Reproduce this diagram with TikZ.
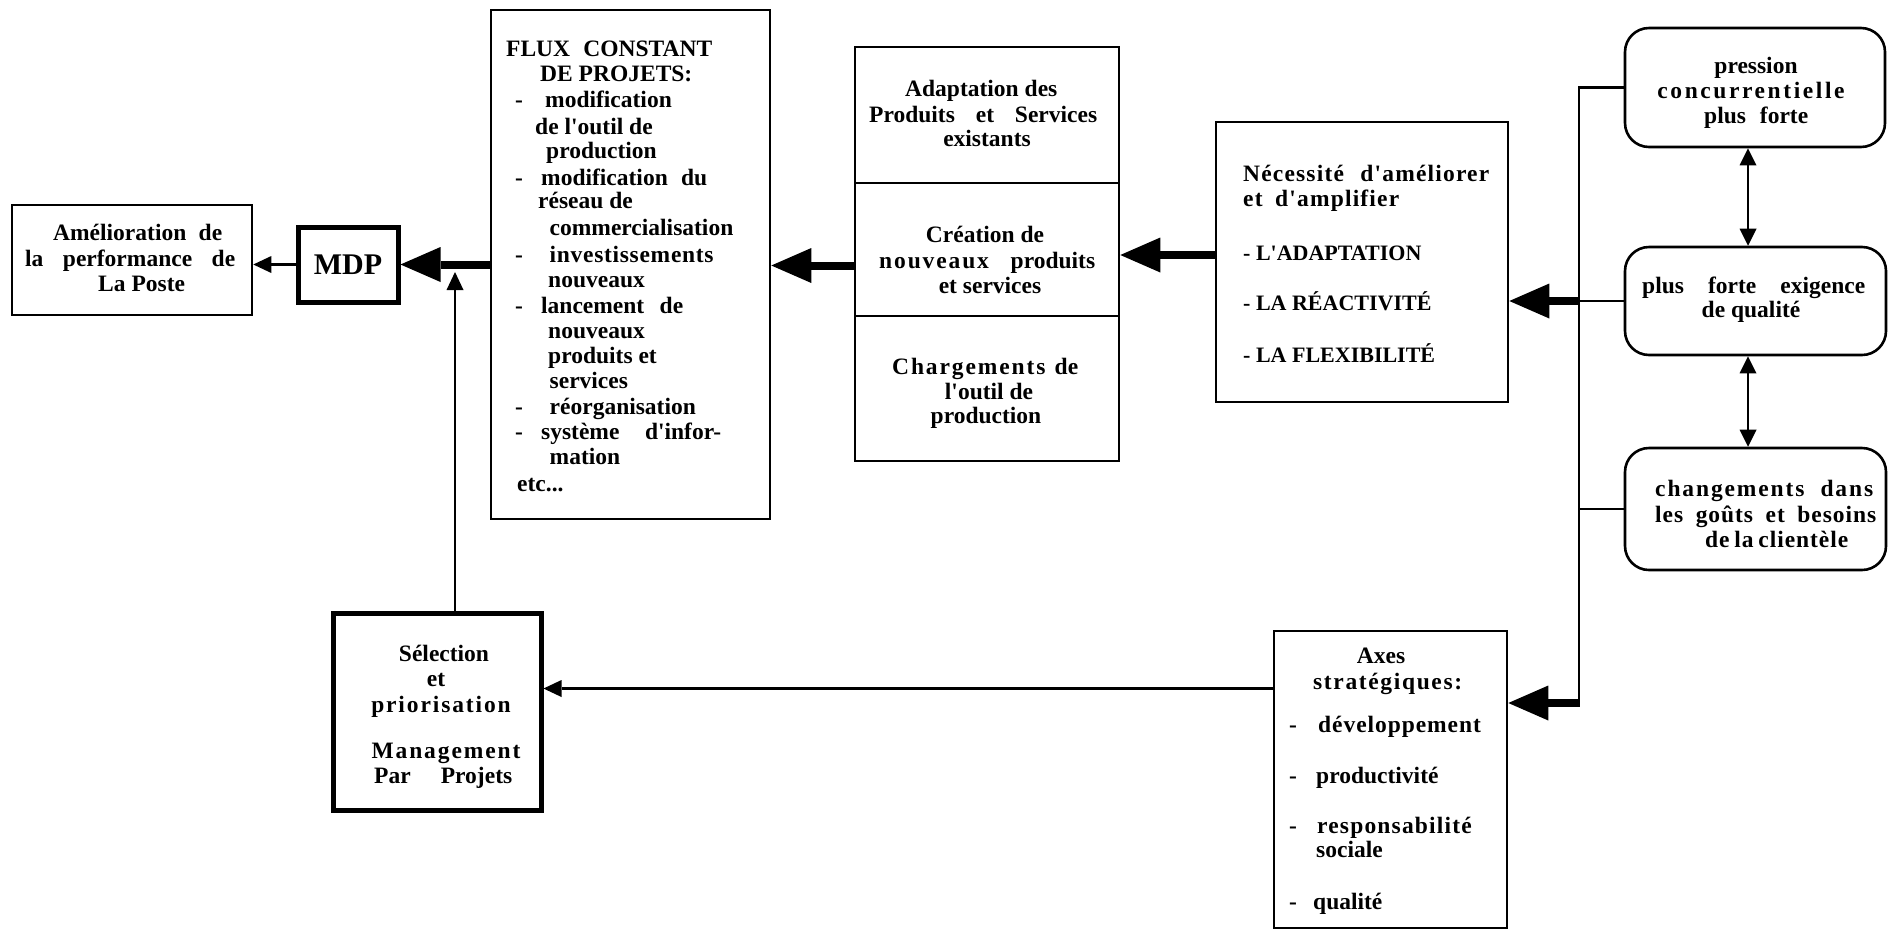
\documentclass[tikz,border=0pt]{standalone}
\usepackage{fontspec}
\setmainfont{Liberation Serif}[Ligatures=TeXOff]
\usetikzlibrary{arrows.meta}
% letter-spaced words
\newcommand\lsp[2][8]{{\addfontfeature{LetterSpace=#1}#2}}
% line set to a given width by stretching its spaces
\newcommand\jst[2]{\makebox[#1pt][s]{#2}}
\begin{document}
\begin{tikzpicture}[x=1pt,y=-1pt,
  every node/.style={inner sep=0pt, font=\fontsize{23.5}{25}\selectfont\bfseries},
  frame/.style={draw, line width=2.6pt},
  heavyframe/.style={draw, line width=5pt},
  roundframe/.style={draw, line width=2.6pt, rounded corners=24pt},
  tl/.style={anchor=base west},
  tc/.style={anchor=base},
  capsline/.style={anchor=base west, font=\fontsize{22}{25}\selectfont\bfseries},
  link/.style={line width=2.6pt},
  smallarrow/.style={line width=2.6pt, -{Triangle[length=18pt,width=17pt,line width=0pt]}},
  twoway/.style={line width=2.6pt, >={Triangle[length=17pt,width=17pt,line width=0pt]}, <->},
  bigarrow/.style={line width=8pt, -{Triangle[length=40pt,width=35pt,line width=0pt]}},
]
\useasboundingbox (0,0) rectangle (1890,930);
\fill[white] (0,0) rectangle (1890,930);

% ---------- boxes ----------
\node[frame, minimum width=240pt, minimum height=110pt] (amel) at (132,260) {};
\node[heavyframe, minimum width=100pt, minimum height=75pt,
      font=\fontsize{30}{30}\selectfont\bfseries] (mdp) at (348,264.5) {MDP};
\node[frame, minimum width=279pt, minimum height=509pt] (flux) at (630.5,264.5) {};
\node[frame, minimum width=264pt, minimum height=136pt] (sec1) at (987,115) {};
\node[frame, minimum width=264pt, minimum height=133pt] (sec2) at (987,249.5) {};
\node[frame, minimum width=264pt, minimum height=145pt] (sec3) at (987,388.5) {};
\node[frame, minimum width=292pt, minimum height=280pt] (nec) at (1362,262) {};
\node[roundframe, minimum width=260pt, minimum height=119pt] (r1) at (1755,87.5) {};
\node[roundframe, minimum width=261pt, minimum height=108pt] (r2) at (1755.5,301) {};
\node[roundframe, minimum width=261pt, minimum height=122pt] (r3) at (1755.5,509) {};
\node[frame, minimum width=233pt, minimum height=297pt] (axes) at (1390.5,779.5) {};
\node[heavyframe, minimum width=208pt, minimum height=197pt] (sel) at (437,711.5) {};

% ---------- texts ----------
\node[tl] (am1) at (53,240) {\jst{169}{Amélioration de}};
\node[tl] (am2) at (25,266) {\jst{210}{la performance de}};
\node[tl] (am3) at (98,291) {La Poste};

\node[tl] (fx1) at (506,56) {\jst{206}{FLUX CONSTANT}};
\node[tl] (fx2) at (540,81) {DE PROJETS:};
\node[tl] (fd1) at (515,107) {-};
\node[tl] (fx3) at (545,107) {modification};
\node[tl] (fx4) at (535,134) {de l'outil de};
\node[tl] (fx5) at (546,158) {production};
\node[tl] (fd2) at (515,185) {-};
\node[tl] (fx6) at (541,185) {\jst{166}{modification du}};
\node[tl] (fx7) at (538,208.5) {réseau de};
\node[tl] (fx8) at (549.5,235) {commercialisation};
\node[tl] (fd3) at (515,262) {-};
\node[tl] (fx9) at (549.5,262) {\lsp[3]{investissements}};
\node[tl] (fx10) at (548,287.5) {nouveaux};
\node[tl] (fd4) at (515,313) {-};
\node[tl] (fx11) at (541,313) {\jst{142}{lancement de}};
\node[tl] (fx12) at (548,338) {nouveaux};
\node[tl] (fx13) at (548,363.5) {produits et};
\node[tl] (fx14) at (549.5,388.5) {services};
\node[tl] (fd5) at (515,414) {-};
\node[tl] (fx15) at (549.5,414) {réorganisation};
\node[tl] (fd6) at (515,439) {-};
\node[tl] (fx16) at (541,439) {\jst{180}{système d'infor-}};
\node[tl] (fx17) at (549.5,464.5) {mation};
\node[tl] (fx18) at (517,491.5) {etc...};

\node[tl] (s1a) at (905,96) {Adaptation des};
\node[tl] (s1b) at (869,122) {\jst{228}{Produits et Services}};
\node[tc] (s1c) at (987,146) {existants};
\node[tc] (s2a) at (985,242) {Création de};
\node[tl] (s2b) at (879,268) {\jst{216}{\lsp{nouveaux} produits}};
\node[tc] (s2c) at (990,293) {et services};
\node[tl] (s3a) at (892,374) {\jst{186}{\lsp{Chargements} de}};
\node[tc] (s3b) at (989,399) {l'outil de};
\node[tc] (s3c) at (986,423.5) {production};

\node[tl] (n1) at (1243,181) {\jst{246}{\lsp[5]{Nécessité} \lsp[5]{d'améliorer}}};
\node[tl] (n2) at (1243,206) {\jst{156}{\lsp[5]{et} \lsp[5]{d'amplifier}}};
\node[capsline] (n3) at (1243,260) {- L'ADAPTATION};
\node[capsline] (n4) at (1243,310) {- LA RÉACTIVITÉ};
\node[capsline] (n5) at (1243,362) {- LA FLEXIBILITÉ};

\node[tc] (p1) at (1756,73) {pression};
\node[tc] (p2) at (1751,98) {\lsp[11]{concurrentielle}};
\node[tl] (p3) at (1704,123) {\jst{104}{plus forte}};
\node[tl] (q1) at (1642,293) {\jst{223}{plus forte exigence}};
\node[tc] (q2) at (1751,317) {de qualité};
\node[tl] (c1) at (1655,496) {\jst{218}{\lsp{changements} \lsp{dans}}};
\node[tl] (c2) at (1655,522) {\jst{221}{\lsp[4]{les} \lsp[4]{goûts} \lsp[4]{et} \lsp[4]{besoins}}};
\node[tl] (c3) at (1705,547) {\jst{143}{\lsp[4]{de} \lsp[4]{la} \lsp[4]{clientèle}}};

\node[tc] (ax1) at (1381,663) {Axes};
\node[tl] (ax2) at (1313,689) {\lsp[7]{stratégiques:}};
\node[tl] (ad1) at (1289,732) {-};
\node[tl] (ax3) at (1318,732) {\lsp[4]{développement}};
\node[tl] (ad2) at (1289,783) {-};
\node[tl] (ax4) at (1316,783) {productivité};
\node[tl] (ad3) at (1289,833) {-};
\node[tl] (ax5) at (1317,833) {\lsp[5]{responsabilité}};
\node[tl] (ax6) at (1316,857) {sociale};
\node[tl] (ad4) at (1289,909) {-};
\node[tl] (ax7) at (1313,909) {qualité};

\node[tc] (se1) at (444,661) {Sélection};
\node[tc] (se2) at (436,686) {et};
\node[tc] (se3) at (441,712) {\lsp{priorisation}};
\node[tc] (se4) at (446,758) {\lsp{Management}};
\node[tl] (se5) at (374,783) {\jst{138}{Par Projets}};

% ---------- connectors ----------
\draw[smallarrow] (mdp.west) -- (mdp.west -| amel.east);
\draw[bigarrow] (flux.west) -- (mdp.east);
\coordinate (upend) at (455,272);
\draw[smallarrow] (sel.north -| upend) -- (upend);

\coordinate (fluxin) at ([yshift=-16pt]sec2.west);
\draw[bigarrow] (fluxin) -- (fluxin -| flux.east);
\coordinate (necout) at ([yshift=7pt]nec.west);
\draw[bigarrow] (necout) -- (necout -| sec2.east);

\coordinate (busx) at (1579,0);
\coordinate (bustop) at (r1.west -| busx);
\coordinate (busmid) at (r2.west -| busx);
\coordinate (buslow) at (r3.west -| busx);
\coordinate (busend) at (1579,703);
\draw[link] (r1.west) -- (bustop) -- ([yshift=-4pt]busend);
\draw[link] (r2.west) -- (busmid);
\draw[link] (r3.west) -- (buslow);
\draw[bigarrow] (busmid) -- (busmid -| nec.east);
\draw[bigarrow] (busend) -- (busend -| axes.east);

\coordinate (axout) at ([yshift=91pt]axes.west);
\draw[smallarrow] (axout) -- (axout -| sel.east);

\coordinate (dblx) at (1748,0);
\draw[twoway] (r1.south -| dblx) -- (r2.north -| dblx);
\draw[twoway] (r2.south -| dblx) -- (r3.north -| dblx);
\end{tikzpicture}
\end{document}
